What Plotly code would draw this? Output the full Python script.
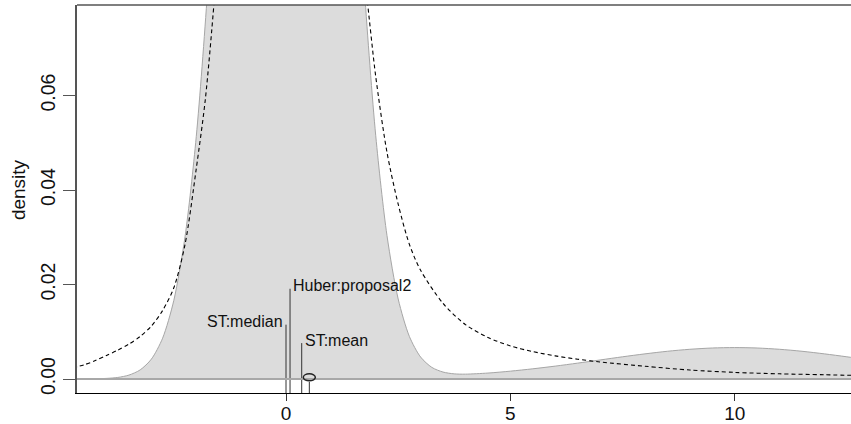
import plotly.graph_objects as go

# ---- data ----
mix_x = [-4.75, -4.5, -4.25, -4, -3.75, -3.5, -3.25, -3, -2.75, -2.5, -2.25, -2, -1.75, -1.5,
         -1.25, -1, -0.75, -0.5, -0.25, 0, 0.25, 0.5, 0.75, 1, 1.25, 1.5, 1.75, 2, 2.25, 2.5,
         2.75, 3, 3.25, 3.5, 3.75, 4, 4.5, 5, 5.5, 6, 6.5, 7, 7.5, 8, 8.5, 9, 9.5, 10, 10.5,
         11, 11.5, 12, 12.5, 13]
mix_density = [0.000005, 0.000015, 0.00005, 0.00013, 0.00033, 0.00083, 0.00193, 0.00421,
               0.00864, 0.01665, 0.03015, 0.05129, 0.08197, 0.12304, 0.17352, 0.22987, 0.28608,
               0.33447, 0.36734, 0.37902, 0.36737, 0.33451, 0.28614, 0.22994, 0.17362, 0.12316,
               0.08212, 0.05148, 0.03039, 0.01694, 0.00900, 0.00465, 0.00246, 0.00147, 0.00109,
               0.00103, 0.00126, 0.00166, 0.00216, 0.00273, 0.00336, 0.00403, 0.00470, 0.00532,
               0.00587, 0.00629, 0.00656, 0.00665, 0.00656, 0.00629, 0.00587, 0.00532, 0.00470,
               0.00403]

st_x = [-4.75, -4.5, -4.25, -4, -3.75, -3.5, -3.25, -3, -2.75, -2.5, -2.25, -2, -1.8, -1.6,
        -1.4, -1.2, -1, -0.5, 0, 0.1, 0.5, 1, 1.2, 1.4, 1.6, 1.8, 2, 2.25, 2.5, 2.75, 3, 3.5,
        4, 4.5, 5, 5.5, 6, 6.5, 7, 8, 9, 10, 11, 12, 13]
st_density = [0.0024, 0.0030, 0.0039, 0.0050, 0.0061, 0.0074, 0.0090, 0.0112, 0.0145, 0.0193,
              0.0285, 0.0445, 0.059, 0.080, 0.105, 0.135, 0.17, 0.26, 0.31, 0.315, 0.29, 0.20,
              0.155, 0.12, 0.097, 0.081, 0.064, 0.048, 0.037, 0.0285, 0.0230, 0.0160, 0.0115,
              0.0088, 0.0070, 0.0058, 0.0049, 0.0042, 0.0036, 0.0027, 0.0019, 0.0014, 0.0011,
              0.0009, 0.0007]

est_labels = ["ST:median", "Huber:proposal2", "ST:mean"]
est_values = [0.0, 0.09, 0.35]
est_heights = [0.0115, 0.0191, 0.0076]
est_label_side = ["left", "right", "right"]

true_value = 0.52
true_marker_y = 0.00036
true_stem_top = -0.0006

x_ticks = [0, 5, 10]
x_tick_text = ["0", "5", "10"]
y_ticks = [0, 0.02, 0.04, 0.06]
y_tick_text = ["0.00", "0.02", "0.04", "0.06"]
y_title = "density"

x_range = [-4.658, 12.592]
y_range = [-0.00296, 0.07915]

FONT = "Liberation Sans, Arial, Helvetica, sans-serif"

fig = go.Figure()

# filled mixture density
fig.add_trace(go.Scatter(x=mix_x, y=mix_density, mode="lines", fill="tozeroy",
                         fillcolor="#dcdcdc", line=dict(color="#a6a6a6", width=1,
                                                         shape="spline", smoothing=0.8),
                         showlegend=False, hoverinfo="skip"))
# baseline
fig.add_hline(y=0, line=dict(color="#a8a8a8", width=2))

# dashed ST density
fig.add_trace(go.Scatter(x=st_x, y=st_density, mode="lines",
                         line=dict(color="black", width=1.1, dash="4px,3px",
                                   shape="spline", smoothing=0.8),
                         showlegend=False, hoverinfo="skip"))

# estimate segments
for lab, v, h, side in zip(est_labels, est_values, est_heights, est_label_side):
    fig.add_trace(go.Scatter(x=[v, v], y=[y_range[0], h], mode="lines",
                             line=dict(color="#333", width=1),
                             showlegend=False, hoverinfo="skip"))
    fig.add_annotation(x=v, y=h, text=lab, showarrow=False,
                       xanchor="right" if side == "left" else "left",
                       yanchor="middle", xshift=-1 if side == "left" else 1, yshift=3,
                       font=dict(family=FONT, size=16, color="#111"))

# true value stem + ellipse
fig.add_trace(go.Scatter(x=[true_value, true_value], y=[y_range[0], true_stem_top],
                         mode="lines", line=dict(color="#333", width=1),
                         showlegend=False, hoverinfo="skip"))
fig.add_shape(type="circle", xref="x", yref="y", xsizemode="pixel", ysizemode="pixel",
              xanchor=true_value, yanchor=true_marker_y, x0=-6, x1=6, y0=-3.5, y1=3.5,
              line=dict(color="#222", width=1.5))

# frame top line
fig.add_shape(type="line", xref="paper", yref="paper", x0=0, x1=1, y0=1, y1=1,
              line=dict(color="#555", width=1.5))

# y-axis title as rotated text
fig.add_annotation(xref="paper", yref="paper", x=0, y=0.523, xshift=-59, text=y_title,
                   textangle=-90, showarrow=False, xanchor="center", yanchor="middle",
                   font=dict(family=FONT, size=19, color="#111"))

fig.update_xaxes(range=x_range, tickvals=x_ticks, ticktext=x_tick_text, automargin=False,
                 showgrid=False, zeroline=False, showline=True, linecolor="black",
                 linewidth=1.2, ticks="outside", ticklen=7, tickcolor="#333",
                 ticklabelstandoff=-4,
                 tickfont=dict(family=FONT, size=19, color="#111"))
fig.update_yaxes(range=y_range, tickvals=y_ticks, ticktext=y_tick_text, automargin=False,
                 showgrid=False, zeroline=False, showline=True, linecolor="#555",
                 linewidth=1.5, ticks="outside", ticklen=12, tickcolor="#555",
                 tickangle=-90,
                 tickfont=dict(family=FONT, size=19.5, color="#111"))

fig.update_layout(width=851, height=424, plot_bgcolor="white", paper_bgcolor="white",
                  margin=dict(l=77, r=0, t=5, b=31), showlegend=False)

fig.write_html("out.html", config={"displayModeBar": False})

# remove the browser's default page margin so the figure fills the window exactly
with open("out.html", "r", encoding="utf-8") as f:
    html = f.read()
html = html.replace("<head>", "<head><style>html,body{margin:0;padding:0;overflow:hidden;}</style>", 1)
with open("out.html", "w", encoding="utf-8") as f:
    f.write(html)
